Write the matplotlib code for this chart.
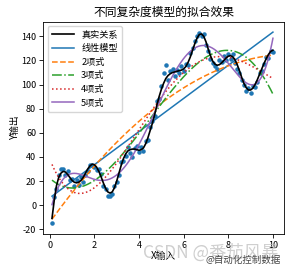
import numpy as np
import matplotlib
matplotlib.use("Agg")
import matplotlib.pyplot as plt

plt.rcParams['font.family'] = ['Noto Sans CJK SC', 'DejaVu Sans']
plt.rcParams['axes.unicode_minus'] = False

title = "不同复杂度模型的拟合效果"
xlabel = "X输入"
ylabel = "Y输出"
labels = ["真实关系", "线性模型", "2项式", "3项式", "4项式", "5项式"]
degrees = [1, 2, 3, 4, 5]
xticks = [0, 2, 4, 6, 8, 10]
yticks = [-20, 0, 20, 40, 60, 80, 100, 120, 140]

x_true = [0.1, 0.2, 0.3, 0.4, 0.5, 0.6, 0.7, 0.8, 0.9, 1.0,
          1.1, 1.2, 1.3, 1.4, 1.5, 1.6, 1.7, 1.8, 1.9, 2.0,
          2.1, 2.2, 2.3, 2.4, 2.5, 2.6, 2.7, 2.8, 2.9, 3.0,
          3.1, 3.2, 3.3, 3.4, 3.5, 3.6, 3.7, 3.8, 3.9, 4.0,
          4.1, 4.2, 4.3, 4.4, 4.5, 4.6, 4.7, 4.8, 4.9, 5.0,
          5.1, 5.2, 5.3, 5.4, 5.5, 5.6, 5.7, 5.8, 5.9, 6.0,
          6.1, 6.2, 6.3, 6.4, 6.5, 6.6, 6.7, 6.8, 6.9, 7.0,
          7.1, 7.2, 7.3, 7.4, 7.5, 7.6, 7.7, 7.8, 7.9, 8.0,
          8.1, 8.2, 8.3, 8.4, 8.5, 8.6, 8.7, 8.8, 8.9, 9.0,
          9.1, 9.2, 9.3, 9.4, 9.5, 9.6, 9.7, 9.8, 9.9, 10.0]
y_true = [-11, 4, 16, 23, 26.5, 28, 27.5, 25.5, 23, 20.5,
          19, 18.5, 19, 20.5, 23, 26.5, 30, 32.5, 34, 33.5,
          31.5, 28, 23.5, 18.5, 14, 11, 10, 11, 14.5, 20,
          26.5, 33, 38.5, 42.5, 45, 46, 46.5, 46.5, 46, 45.5,
          46, 47.5, 51, 56, 62, 68, 75, 83, 90, 96,
          101, 105, 107.5, 109, 110, 110.5, 111, 111.5, 112, 113,
          115, 118.5, 123, 128.5, 134, 138.5, 141.5, 142, 140, 135.5,
          129.5, 124, 119.5, 117, 116, 116.5, 118, 120, 122, 123.5,
          124, 123, 120.5, 116.5, 111.5, 106, 101, 97.5, 95.5, 95.5,
          97, 100, 104, 108.5, 113, 117.5, 121.5, 125, 127.5, 128.5]
y_obs = [-15, 7, 13, 25, 30, 30, 25, 28, 21, 22,
         16, 21, 17, 23, 19, 25, 28, 33, 33, 32,
         29, 30, 26, 16, 13, 8, 8, 9, 16, 19,
         25, 36, 37, 41, 48, 43, 40, 47, 49, 44,
         48, 45, 53, 54, 65, 70, 74, 86, 88, 99,
         110, 116, 104, 111, 113, 107, 112, 110, 115, 111,
         117, 116, 126, 130, 136, 140, 143, 140, 142, 133,
         128, 121, 118, 115, 113, 120, 119, 124, 120, 125,
         121, 125, 118, 113, 110, 104, 100, 95, 97, 93,
         99, 98, 102, 110, 111, 117, 123, 122, 128, 127]

xa = np.array(x_true)
ya = np.array(y_obs)

fig = plt.figure(figsize=(2.95, 2.70), dpi=100)
ax = fig.add_axes([0.146, 0.133, 0.817, 0.786])

ax.scatter(x_true, y_obs, s=5, color='#1f77b4', zorder=2)
ax.plot(x_true, y_true, color='black', lw=1.2, label=labels[0], zorder=3)

styles = [dict(color='#1f77b4', ls='-'),
          dict(color='#ff7f0e', ls='--'),
          dict(color='#2ca02c', ls='-.'),
          dict(color='#d62728', ls=':'),
          dict(color='#9467bd', ls='-')]
xs = np.linspace(xa.min(), xa.max(), 200)
for d, lab, st in zip(degrees, labels[1:], styles):
    coef = np.polyfit(xa, ya, d)
    ax.plot(xs, np.polyval(coef, xs), lw=1.1, label=lab, **st)

ax.set_xlim(-0.3, 10.5)
ax.set_ylim(-24, 152)
ax.set_xticks(xticks)
ax.set_yticks(yticks)
ax.tick_params(labelsize=6.5, length=3, width=0.6, pad=2)
for s in ax.spines.values():
    s.set_linewidth(0.6)
ax.set_title(title, fontsize=8.5, pad=4)
ax.set_xlabel(xlabel, fontsize=7, labelpad=1)
ax.set_ylabel(ylabel, fontsize=7, labelpad=1)
ax.legend(loc='upper left', fontsize=6.6, handlelength=2.4, labelspacing=0.5,
          borderpad=0.45, framealpha=0.8)

fig.text(0.485, 0.045, "CSDN @番茄风暴", fontsize=12.5, color='#bbbbbb', alpha=0.7)
fig.text(0.695, 0.028, "@自动化控制数据", fontsize=6.8, color='#444444')

fig.savefig("out.png", dpi=100)
